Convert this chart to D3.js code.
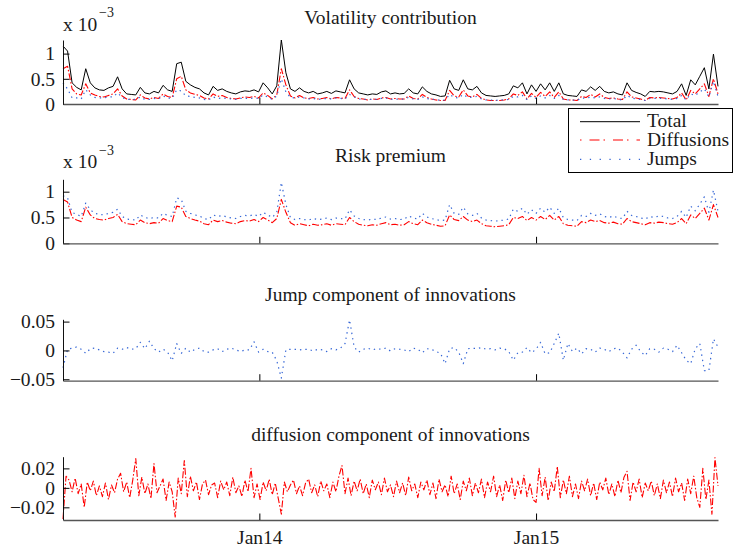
<!DOCTYPE html>
<html><head><meta charset="utf-8">
<script src="https://cdn.jsdelivr.net/npm/d3@7"></script>
<style>
body{margin:0;background:#fff}
svg{display:block}
text{font-family:"Liberation Serif","Times New Roman",serif;fill:#1a1a1a}
</style>
</head><body>
<svg id="c" width="734" height="548"></svg>
<script>
// ---------- data ----------
const startDate = new Date(Date.UTC(2013, 3, 17));
const stepCoarse = 6;   // days between points of the coarse series
const stepFine = 4;     // days between points of the diffusion innovations
const xTickDates = [new Date(Date.UTC(2014, 0, 1)), new Date(Date.UTC(2015, 0, 1))];

// Volatility contribution (x 1e-3)
const volTotal = [
 1.15,1.05,0.42,0.33,0.28,0.70,0.42,0.32,0.28,0.27,
 0.32,0.35,0.54,0.30,0.20,0.19,0.18,0.33,0.22,0.20,
 0.25,0.22,0.37,0.28,0.25,0.80,0.83,0.45,0.38,0.33,
 0.30,0.22,0.18,0.35,0.27,0.30,0.25,0.22,0.20,0.24,
 0.26,0.25,0.28,0.24,0.42,0.32,0.20,0.36,1.27,0.62,
 0.30,0.25,0.32,0.25,0.22,0.25,0.20,0.22,0.25,0.21,
 0.26,0.24,0.22,0.48,0.30,0.22,0.20,0.18,0.20,0.19,
 0.24,0.26,0.20,0.22,0.20,0.21,0.30,0.22,0.20,0.34,
 0.25,0.20,0.18,0.15,0.16,0.47,0.30,0.27,0.48,0.30,
 0.28,0.35,0.22,0.17,0.16,0.15,0.16,0.17,0.20,0.36,
 0.32,0.42,0.20,0.38,0.25,0.40,0.28,0.42,0.25,0.42,
 0.20,0.17,0.16,0.15,0.28,0.25,0.34,0.27,0.35,0.25,
 0.22,0.24,0.20,0.18,0.42,0.27,0.23,0.20,0.15,0.25,
 0.24,0.25,0.24,0.22,0.20,0.25,0.40,0.17,0.48,0.38,
 0.55,0.72,0.30,0.99,0.35];
const volDiff = [
 0.70,0.75,0.30,0.20,0.18,0.40,0.22,0.18,0.15,0.14,
 0.17,0.20,0.30,0.16,0.10,0.09,0.08,0.18,0.12,0.10,
 0.13,0.11,0.20,0.15,0.13,0.50,0.55,0.28,0.22,0.19,
 0.17,0.12,0.10,0.20,0.15,0.17,0.13,0.11,0.10,0.12,
 0.14,0.13,0.15,0.12,0.22,0.17,0.10,0.18,0.70,0.38,
 0.16,0.12,0.17,0.12,0.11,0.13,0.10,0.11,0.13,0.10,
 0.13,0.12,0.11,0.28,0.15,0.11,0.10,0.08,0.10,0.09,
 0.12,0.13,0.10,0.11,0.10,0.10,0.16,0.11,0.10,0.19,
 0.13,0.10,0.08,0.07,0.07,0.27,0.16,0.14,0.28,0.16,
 0.14,0.19,0.11,0.08,0.07,0.07,0.07,0.08,0.10,0.20,
 0.17,0.24,0.10,0.21,0.13,0.23,0.15,0.24,0.13,0.24,
 0.10,0.08,0.08,0.07,0.15,0.13,0.19,0.14,0.20,0.13,
 0.11,0.12,0.10,0.09,0.24,0.14,0.12,0.10,0.07,0.13,
 0.12,0.13,0.12,0.11,0.10,0.13,0.22,0.08,0.27,0.20,
 0.30,0.40,0.15,0.50,0.20];
const volJump = [
 0.42,0.30,0.12,0.12,0.10,0.28,0.18,0.13,0.12,0.12,
 0.14,0.14,0.22,0.13,0.09,0.09,0.09,0.14,0.09,0.09,
 0.11,0.10,0.16,0.12,0.11,0.28,0.26,0.16,0.15,0.13,
 0.12,0.09,0.08,0.14,0.11,0.12,0.11,0.10,0.09,0.11,
 0.11,0.11,0.12,0.11,0.18,0.14,0.09,0.16,0.50,0.24,
 0.13,0.12,0.14,0.12,0.10,0.11,0.09,0.10,0.11,0.10,
 0.12,0.11,0.10,0.19,0.14,0.10,0.09,0.09,0.09,0.09,
 0.11,0.12,0.09,0.10,0.09,0.10,0.13,0.10,0.09,0.14,
 0.11,0.09,0.09,0.07,0.08,0.19,0.13,0.12,0.19,0.13,
 0.13,0.15,0.10,0.08,0.08,0.07,0.08,0.08,0.09,0.15,
 0.14,0.17,0.09,0.16,0.11,0.16,0.12,0.17,0.11,0.17,
 0.09,0.08,0.08,0.07,0.12,0.11,0.14,0.12,0.14,0.11,
 0.10,0.11,0.09,0.08,0.17,0.12,0.10,0.09,0.07,0.11,
 0.11,0.11,0.11,0.10,0.09,0.11,0.17,0.08,0.20,0.17,
 0.24,0.30,0.14,0.45,0.15];

// Risk premium (x 1e-3)
const rpDiff = [
 0.85,0.80,0.50,0.45,0.42,0.70,0.55,0.48,0.46,0.45,
 0.48,0.50,0.56,0.42,0.38,0.37,0.36,0.45,0.40,0.38,
 0.40,0.39,0.48,0.44,0.42,0.72,0.70,0.52,0.48,0.45,
 0.43,0.38,0.36,0.45,0.42,0.44,0.41,0.39,0.38,0.42,
 0.44,0.43,0.46,0.42,0.50,0.45,0.40,0.48,0.85,0.60,
 0.40,0.35,0.38,0.36,0.34,0.37,0.35,0.36,0.38,0.35,
 0.38,0.37,0.36,0.50,0.42,0.37,0.35,0.34,0.36,0.35,
 0.38,0.40,0.36,0.37,0.35,0.36,0.42,0.38,0.36,0.45,
 0.40,0.37,0.35,0.33,0.34,0.55,0.46,0.44,0.52,0.45,
 0.42,0.45,0.38,0.34,0.33,0.32,0.33,0.34,0.36,0.50,
 0.48,0.52,0.44,0.50,0.45,0.52,0.46,0.54,0.45,0.52,
 0.38,0.35,0.34,0.33,0.42,0.40,0.45,0.42,0.44,0.40,
 0.39,0.41,0.38,0.37,0.48,0.42,0.40,0.38,0.36,0.40,
 0.39,0.41,0.40,0.38,0.37,0.40,0.48,0.38,0.55,0.48,
 0.58,0.68,0.45,0.75,0.50];
const rpJump = [
 0.92,0.88,0.60,0.56,0.52,0.78,0.65,0.58,0.56,0.55,
 0.58,0.60,0.66,0.52,0.47,0.46,0.45,0.55,0.50,0.48,
 0.50,0.49,0.58,0.54,0.52,0.88,0.85,0.62,0.58,0.55,
 0.53,0.48,0.46,0.55,0.52,0.54,0.51,0.49,0.48,0.52,
 0.54,0.53,0.56,0.52,0.60,0.55,0.50,0.60,1.18,0.75,
 0.50,0.46,0.48,0.46,0.45,0.48,0.46,0.47,0.49,0.46,
 0.49,0.48,0.47,0.65,0.53,0.48,0.46,0.45,0.47,0.46,
 0.49,0.51,0.47,0.48,0.46,0.47,0.53,0.49,0.47,0.58,
 0.51,0.48,0.46,0.44,0.45,0.75,0.58,0.56,0.70,0.57,
 0.54,0.58,0.49,0.45,0.44,0.43,0.44,0.45,0.47,0.66,
 0.62,0.68,0.56,0.65,0.58,0.68,0.60,0.70,0.58,0.68,
 0.50,0.46,0.45,0.44,0.54,0.52,0.58,0.54,0.57,0.52,
 0.50,0.53,0.49,0.48,0.62,0.54,0.52,0.49,0.47,0.52,
 0.50,0.53,0.52,0.49,0.48,0.52,0.62,0.50,0.72,0.63,
 0.76,0.90,0.60,1.03,0.62];

// Jump component of innovations
const jumpInnov = [
 -0.030,0.002,0.004,0.006,0.002,-0.005,0.003,0.004,0.001,-0.002,
 -0.003,-0.005,0.004,0.002,0.005,0.002,0.003,0.014,0.003,0.016,
 0.003,-0.003,0.002,-0.003,-0.018,0.012,-0.005,0.004,-0.003,0.002,
 0.004,-0.002,-0.003,0.001,0.003,-0.002,0.002,0.004,0.001,-0.002,
 0.001,0.001,0.015,-0.003,0.002,-0.002,-0.003,-0.018,-0.048,0.001,
 0.002,0.002,0.001,0.002,0.002,-0.001,0.002,0.001,-0.002,0.003,
 0.001,0.004,0.012,0.053,0.006,-0.003,0.002,0.004,0.001,0.003,
 0.002,0.004,-0.001,0.003,0.002,0.001,-0.002,0.004,0.002,-0.004,
 0.003,0.002,-0.002,-0.005,-0.023,0.003,0.005,-0.003,-0.023,0.003,
 0.004,0.003,0.005,0.002,0.003,0.001,0.004,0.003,-0.002,-0.017,
 -0.004,-0.003,0.005,-0.004,0.002,0.014,-0.006,-0.004,0.012,0.030,
 -0.017,0.012,-0.002,0.004,-0.006,0.003,0.002,-0.003,0.004,0.002,
 -0.002,0.003,0.004,-0.003,-0.013,0.002,0.009,-0.002,-0.009,0.003,
 0.002,-0.003,0.004,0.002,-0.002,0.009,-0.004,-0.017,-0.023,0.003,
 0.012,-0.035,-0.035,0.020,0.006];

// diffusion component of innovations
const diffInnov = [
 -0.032,0.012,0.008,-0.004,0.010,-0.006,0.004,-0.020,0.006,-0.003,
 0.007,-0.008,0.002,-0.009,0.005,-0.012,0.003,-0.005,0.009,0.015,
 -0.004,0.006,-0.010,0.008,0.030,-0.008,0.011,-0.006,0.004,-0.011,
 0.025,-0.005,0.002,0.009,-0.013,0.006,-0.004,-0.030,0.010,-0.006,
 0.028,-0.009,0.012,-0.003,0.006,-0.012,0.004,0.008,-0.007,0.003,
 0.005,-0.010,0.007,-0.002,0.006,-0.008,0.011,-0.005,0.002,-0.009,
 0.008,-0.004,0.020,-0.010,0.004,-0.012,0.006,-0.003,0.009,-0.007,
 0.005,-0.011,-0.027,0.006,-0.004,0.003,0.008,-0.006,0.002,-0.008,
 0.005,0.009,-0.005,0.003,-0.009,0.007,-0.003,0.004,-0.010,0.006,
 -0.004,0.012,0.023,-0.006,0.010,-0.008,0.007,-0.003,0.009,-0.006,
 0.004,-0.010,0.008,-0.002,0.006,-0.007,0.010,-0.004,0.003,-0.009,
 0.007,-0.005,0.005,-0.008,0.011,-0.003,0.004,-0.010,0.006,-0.002,
 0.008,-0.007,0.005,-0.011,0.009,-0.004,0.003,-0.009,0.012,-0.006,
 0.004,-0.012,0.007,-0.003,0.010,-0.008,0.005,-0.005,0.009,-0.010,
 0.006,-0.004,0.012,-0.009,0.003,-0.013,0.008,-0.005,0.010,-0.011,
 0.007,-0.006,0.013,-0.009,0.005,-0.012,-0.015,0.020,-0.008,0.011,
 -0.013,0.006,-0.004,0.022,-0.010,0.008,-0.006,0.012,-0.009,0.004,
 -0.011,0.007,-0.003,0.009,-0.008,0.005,-0.012,0.006,-0.002,0.010,
 -0.007,0.004,-0.009,0.008,-0.005,0.011,0.017,-0.013,0.006,-0.004,
 0.009,-0.010,0.005,-0.003,0.007,-0.008,0.004,-0.011,0.008,-0.005,
 0.006,-0.009,0.010,-0.004,0.005,-0.013,0.009,-0.006,0.012,-0.010,
 -0.020,0.020,-0.012,0.008,-0.027,0.031,0.002];

const panelTitles = ["Volatility contribution", "Risk premium",
  "Jump component of innovations", "diffusion component of innovations"];
const legendLabels = ["Total", "Diffusions", "Jumps"];

// ---------- drawing ----------
const svg = d3.select("#c");
const FONT = '"Liberation Serif","Times New Roman",serif';
const FS = 19.5;
const RED = "#ff0000", BLUE = "#3566d6", BLACK = "#000";
const DASHDOT = "7,2,1.5,2", DOT = "1.4,4";

const coarseDates = volTotal.map((_, i) => d3.utcDay.offset(startDate, i * stepCoarse));
const fineDates = diffInnov.map((_, i) => d3.utcDay.offset(startDate, i * stepFine));
const x = d3.scaleUtc()
  .domain([startDate, d3.utcDay.offset(startDate, (volTotal.length - 1) * stepCoarse)])
  .range([63, 718]);

const panels = [
  {title: panelTitles[0], titleY: 24, top: 40, bottom: 104, domain: [0, 1.27], ticks: [0, 0.5, 1],
   exp: {base: 30.7, sup: 16.8},
   series: [
     {dates: coarseDates, vals: volTotal, color: BLACK, dash: null, w: 1},
     {dates: coarseDates, vals: volDiff, color: RED, dash: DASHDOT, w: 1.1},
     {dates: coarseDates, vals: volJump, color: BLUE, dash: DOT, w: 1.2}]},
  {title: panelTitles[1], titleY: 162, top: 179.3, bottom: 243.3, domain: [0, 1.24], ticks: [0, 0.5, 1],
   exp: {base: 168.3, sup: 155},
   series: [
     {dates: coarseDates, vals: rpDiff, color: RED, dash: DASHDOT, w: 1.1},
     {dates: coarseDates, vals: rpJump, color: BLUE, dash: DOT, w: 1.2}]},
  {title: panelTitles[2], titleY: 300.7, top: 319.3, bottom: 380.7, domain: [-0.0525, 0.054], ticks: [-0.05, 0, 0.05],
   series: [
     {dates: coarseDates, vals: jumpInnov, color: BLUE, dash: DOT, w: 1.2}]},
  {title: panelTitles[3], titleY: 440.7, top: 456.7, bottom: 520, domain: [-0.033, 0.032], ticks: [-0.02, 0, 0.02],
   xLabels: true,
   series: [
     {dates: fineDates, vals: diffInnov, color: RED, dash: DASHDOT, w: 1.1}]}
];

panels.forEach(p => {
  const y = d3.scaleLinear().domain(p.domain).range([p.bottom, p.top]);
  const g = svg.append("g");

  p.series.forEach(s => {
    const line = d3.line().x((d, i) => x(s.dates[i])).y(d => y(d));
    g.append("path")
      .attr("d", line(s.vals))
      .attr("fill", "none")
      .attr("stroke", s.color)
      .attr("stroke-width", s.w)
      .attr("stroke-dasharray", s.dash)
      .attr("stroke-linejoin", "round");
  });

  // y axis
  const ya = g.append("g").attr("transform", "translate(63,0)")
    .call(d3.axisLeft(y).tickValues(p.ticks).tickSize(-6.5).tickSizeOuter(0)
      .tickPadding(8).tickFormat(d3.format("")));
  ya.attr("font-family", FONT).attr("font-size", FS);
  ya.selectAll("text").attr("fill", "#1a1a1a");
  ya.select(".domain").attr("stroke", "#111");

  // x axis
  const xa = g.append("g").attr("transform", `translate(0,${p.bottom})`)
    .call(d3.axisBottom(x).tickValues(xTickDates).tickSize(-6.5).tickSizeOuter(0)
      .tickPadding(9.7).tickFormat(p.xLabels ? d3.utcFormat("%b%y") : () => ""));
  xa.attr("font-family", FONT).attr("font-size", FS);
  xa.selectAll("text").attr("fill", "#1a1a1a");
  xa.select(".domain").attr("stroke", "#555").attr("stroke-width", 1.3);

  // title
  g.append("text").attr("x", 390.5).attr("y", p.titleY)
    .attr("text-anchor", "middle").attr("font-size", FS).text(p.title);

  // exponent
  if (p.exp) {
    g.append("text").attr("x", 63).attr("y", p.exp.base).attr("font-size", FS).text("x 10");
    g.append("text").attr("x", 99).attr("y", p.exp.sup).attr("font-size", 14).text("\u22123");
  }
});

// legend
const lg = svg.append("g");
lg.append("rect").attr("x", 568.5).attr("y", 108.5).attr("width", 164).attr("height", 64)
  .attr("fill", "#fff").attr("stroke", "#000").attr("stroke-width", 1);
const legendStyles = [
  {color: BLACK, dash: null, w: 1, ly: 121.7, ty: 126.5},
  {color: RED, dash: "1.5,8,10,4", w: 1, ly: 140, ty: 145.5},
  {color: BLUE, dash: "1.3,8.5", w: 1.2, ly: 159.3, ty: 164.5}];
legendLabels.forEach((lab, i) => {
  const st = legendStyles[i];
  lg.append("line").attr("x1", 580).attr("x2", 640).attr("y1", st.ly).attr("y2", st.ly)
    .attr("stroke", st.color).attr("stroke-width", st.w).attr("stroke-dasharray", st.dash);
  lg.append("text").attr("x", 647).attr("y", st.ty).attr("font-size", FS).text(lab);
});
</script>
</body></html>
